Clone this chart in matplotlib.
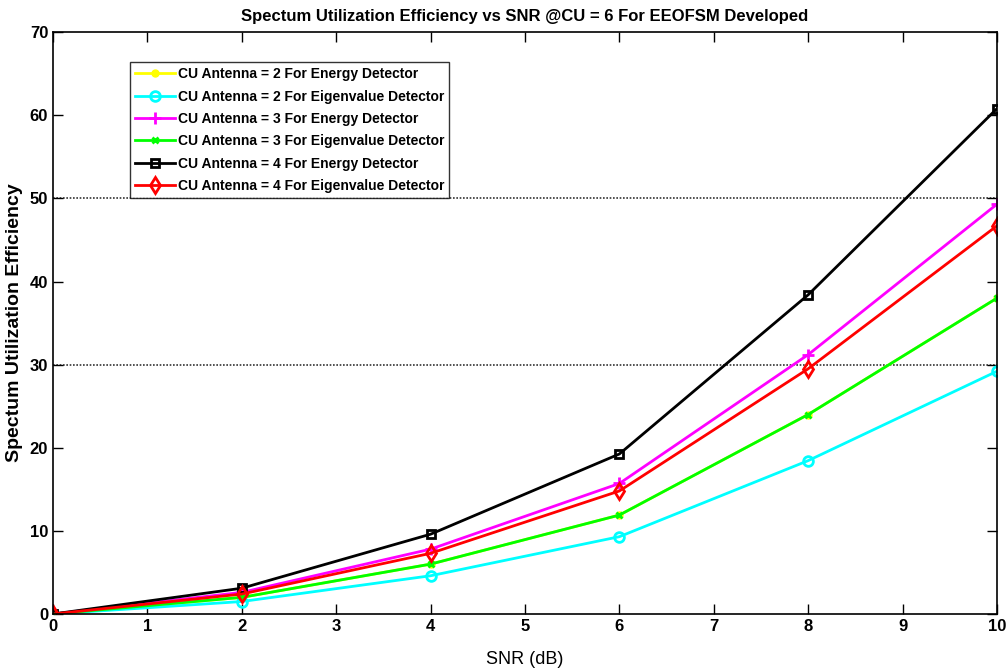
import numpy as np
import matplotlib
matplotlib.use("Agg")
import matplotlib.pyplot as plt

plt.rcParams['font.family'] = ['Liberation Sans', 'DejaVu Sans']
plt.rcParams['font.weight'] = 'bold'

# SNR points (dB) and spectrum utilization efficiency per configuration
snr = [0, 2, 4, 6, 8, 10]
cu2_energy = [0, 2.0, 6.0, 11.9, 24.0, 38.0]
cu2_eigen = [0, 1.5, 4.6, 9.3, 18.45, 29.2]
cu3_energy = [0, 2.6, 7.8, 15.7, 31.2, 49.3]
cu3_eigen = [0, 2.0, 6.0, 11.9, 24.0, 38.0]
cu4_energy = [0, 3.1, 9.6, 19.25, 38.4, 60.8]
cu4_eigen = [0, 2.4, 7.3, 14.8, 29.5, 46.7]

labels = [
    'CU Antenna = 2 For Energy Detector',
    'CU Antenna = 2 For Eigenvalue Detector',
    'CU Antenna = 3 For Energy Detector',
    'CU Antenna = 3 For Eigenvalue Detector',
    'CU Antenna = 4 For Energy Detector',
    'CU Antenna = 4 For Eigenvalue Detector',
]

fig = plt.figure(figsize=(10.06, 6.70), dpi=100)
ax = fig.add_axes([0.0527, 0.0836, 0.9383, 0.8684])

lw = 2
ax.plot(snr, cu2_energy, color='#ffff00', marker='o', markersize=5, lw=lw, label=labels[0])
ax.plot(snr, cu2_eigen, color='#00ffff', marker='o', markersize=7, mfc='none', mew=2, lw=lw, label=labels[1])
ax.plot(snr, cu3_energy, color='#ff00ff', marker='+', markersize=8, mew=2, lw=lw, label=labels[2])
ax.plot(snr, cu3_eigen, color='#00ff00', marker='x', markersize=5, mew=2, lw=lw, label=labels[3])
ax.plot(snr, cu4_energy, color='black', marker='s', markersize=6, mfc='none', mew=2, lw=lw, label=labels[4])
ax.plot(snr, cu4_eigen, color='#ff0000', marker='d', markersize=8, mfc='none', mew=2, lw=lw, label=labels[5])

# dotted reference lines
for yv in (30, 50):
    ax.axhline(yv, color='#333333', lw=1.2, ls=(0, (1, 1)), zorder=0)

ax.set_xlim(0, 10)
ax.set_ylim(0, 70)
ax.set_xticks(range(0, 11))
ax.set_yticks(range(0, 71, 10))
ax.tick_params(direction='in', top=True, right=True, labelsize=12, length=7, width=1)
for lab in ax.get_xticklabels() + ax.get_yticklabels():
    lab.set_fontweight('bold')
for sp in ax.spines.values():
    sp.set_linewidth(1.2)

ax.set_xlabel('SNR (dB)', fontsize=13, fontweight='normal', labelpad=12)
ax.set_ylabel('Spectum Utilization Efficiency', fontsize=14, fontweight='bold', labelpad=5)
ax.set_title('Spectum Utilization Efficiency vs SNR @CU = 6 For EEOFSM Developed',
             fontsize=12, fontweight='bold', pad=8)

leg = ax.legend(loc='upper left', bbox_to_anchor=(0.0816, 0.948),
                frameon=True, fancybox=False, edgecolor='black', borderpad=0.35,
                labelspacing=0.6, handlelength=2.9, handletextpad=0.2,
                borderaxespad=0, prop={'weight': 'bold', 'size': 10})
leg.get_frame().set_linewidth(1)

fig.savefig('out.png', dpi=100)
